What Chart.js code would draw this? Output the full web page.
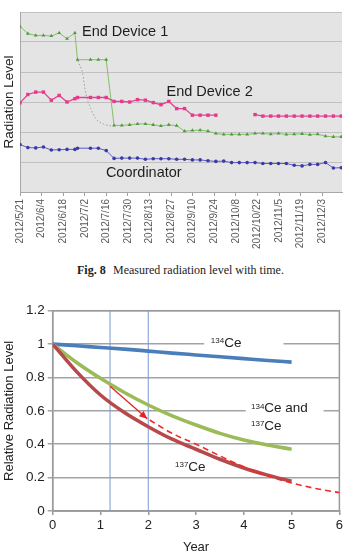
<!DOCTYPE html>
<html>
<head>
<meta charset="utf-8">
<script src="https://cdn.jsdelivr.net/npm/chart.js@4.4.1/dist/chart.umd.min.js"></script>
<style>
  body { margin: 0; width: 346px; height: 556px; background: #fff; position: relative; overflow: hidden; }
  #top { position: absolute; left: 0; top: 0; }
  #bot { position: absolute; left: 0; top: 290px; }
  .cap { position: absolute; top: 263px; font: 12px/14px "Liberation Serif", serif; color: #222; white-space: nowrap; }
</style>
</head>
<body>
<canvas id="top" width="346" height="252"></canvas>
<div class="cap" style="left:77px"><b>Fig. 8</b></div>
<div class="cap" style="left:113px">Measured radiation level with time.</div>
<canvas id="bot" width="346" height="266"></canvas>

<script>
// ---- Fig. 8 : measured radiation level (days since 2012/5/21) ----
const dateLabels = ["2012/5/21", "2012/6/4", "2012/6/18", "2012/7/2", "2012/7/16", "2012/7/30",
  "2012/8/13", "2012/8/27", "2012/9/10", "2012/9/24", "2012/10/8", "2012/10/22",
  "2012/11/5", "2012/11/19", "2012/12/3"];
const labelDays = [0, 14, 28, 42, 56, 70, 84, 98, 112, 126, 140, 154, 168, 182, 196];

const days = [0, 5.1, 10.2, 15.2, 20.3, 25.4, 30.5, 35.6, 37.3, 45.7, 50.8, 55.9,
  61, 66, 71.1, 76.2, 81.3, 86.4, 91.4, 96.5, 101.6, 106.7, 111.8, 116.8, 121.9, 127,
  132.1, 137.2, 142.2, 147.3, 152.4, 157.5, 162.6, 167.6, 172.7, 177.8, 182.9, 188,
  193, 198.1, 203.2, 208.3];
const endDevice1 = [5.52, 5.28, 5.22, 5.22, 5.20, 5.30, 5.11, 5.30, 4.41, 4.41, 4.41, 4.41,
  2.22, 2.22, 2.24, 2.27, 2.27, 2.24, 2.20, 2.24, 2.21, 2.03, 2.05, 2.06, 2.03, 1.95,
  1.92, 1.92, 1.92, 1.92, 1.95, 1.95, 1.93, 1.95, 1.92, 1.93, 1.94, 1.91, 1.93, 1.86,
  1.84, 1.84];
const endDevice2 = [2.97, 3.25, 3.33, 3.33, 3.06, 3.22, 3.00, 3.11, 3.15, 3.15, 3.15, 3.15,
  3.02, 3.02, 3.00, 3.08, 3.06, 2.98, 2.91, 3.02, 2.78, 2.78, 2.56, 2.56, 2.56, 2.56,
  null, null, null, null, 2.58, 2.53, 2.53, 2.53, 2.53, 2.53, 2.53, 2.53, 2.53, 2.53,
  2.53, 2.53];
const coordinator = [1.58, 1.48, 1.47, 1.50, 1.40, 1.41, 1.42, 1.42, 1.46, 1.46, 1.46, 1.38,
  1.12, 1.13, 1.13, 1.13, 1.09, 1.11, 1.11, 1.11, 1.09, 1.09, 1.07, 1.07, 1.04, 1.02,
  1.03, 0.98, 0.98, 0.98, 0.98, 0.95, 0.95, 0.95, 0.95, 0.89, 0.87, 0.92, 0.92, 0.98,
  0.80, 0.81];
// dotted guide curve after the first drop
const dropDays = [37.5, 40.6, 42.7, 45.9, 49.1, 53.4, 59.8];
const dropVals = [4.38, 3.95, 3.28, 2.78, 2.45, 2.28, 2.19];

// ---- lower chart : relative radiation level vs year ----
const years = [0, 0.5, 1, 1.5, 2, 2.5, 3, 3.5, 4, 4.5, 5];
const ce134 = [1, 0.99, 0.98, 0.97, 0.958, 0.946, 0.935, 0.924, 0.913, 0.902, 0.892];
const ceBoth = [1, 0.89, 0.795, 0.71, 0.635, 0.57, 0.515, 0.465, 0.425, 0.395, 0.37];
const ce137 = [1, 0.835, 0.695, 0.59, 0.505, 0.43, 0.37, 0.31, 0.258, 0.215, 0.178];
const fitYears = [2.03, 2.5, 3, 3.5, 4, 4.5, 5, 5.5, 6];
const fitVals = [0.545, 0.465, 0.40, 0.33, 0.265, 0.21, 0.168, 0.135, 0.11];
const arrowYears = [1.2, 1.98];
const arrowVals = [0.748, 0.552];
const markYears = [1.2, 2];

const pts = (xs, ys) => xs.map((x, i) => ({ x: x, y: ys[i] }));
const SANS = "'Liberation Sans', Arial, sans-serif";

const plotBg = {
  id: "plotBg",
  beforeDraw(chart, args, opts) {
    const { ctx, chartArea: a } = chart;
    ctx.save();
    ctx.fillStyle = opts.color;
    ctx.fillRect(a.left, a.top, a.right - a.left, a.bottom - a.top);
    ctx.restore();
  }
};

const topNotes = {
  id: "topNotes",
  afterDatasetsDraw(chart) {
    const { ctx, scales: { x, y } } = chart;
    ctx.save();
    ctx.font = "14.5px " + SANS;
    ctx.fillStyle = "#1e1e1e";
    ctx.textBaseline = "middle";
    ctx.fillText("End Device 1", x.getPixelForValue(40.2), y.getPixelForValue(5.34));
    ctx.fillText("End Device 2", x.getPixelForValue(95), y.getPixelForValue(3.33));
    ctx.fillText("Coordinator", x.getPixelForValue(55.7), y.getPixelForValue(0.63));
    ctx.restore();
  }
};

new Chart(document.getElementById("top"), {
  type: "line",
  data: {
    datasets: [
      {
        data: pts(days, endDevice2), borderColor: "#e8408f", borderWidth: 1.3,
        pointStyle: "rect", pointRadius: 2.4, pointBackgroundColor: "#e8378c",
        pointBorderWidth: 0
      },
      {
        data: pts(days, endDevice1), borderColor: "#86c066", borderWidth: 1,
        pointStyle: "triangle", pointRadius: 2.2, pointBackgroundColor: "#4e9a3c",
        pointBorderWidth: 0
      },
      {
        data: pts(days, coordinator), borderColor: "#5b5bd0", borderWidth: 1,
        pointStyle: "circle", pointRadius: 1.8, pointBackgroundColor: "#3a3aa6",
        pointBorderWidth: 0
      },
      {
        data: pts(dropDays, dropVals), borderColor: "#9aa39a", borderWidth: 1,
        borderDash: [1.5, 2], pointRadius: 0, cubicInterpolationMode: "monotone"
      }
    ]
  },
  options: {
    responsive: false,
    animation: false,
    events: [],
    layout: { padding: { top: 12, left: 0, right: 0, bottom: 0 } },
    plugins: {
      legend: { display: false },
      tooltip: { enabled: false },
      plotBg: { color: "#e4e4e4" }
    },
    scales: {
      x: {
        type: "linear", min: 0, max: 208.8,
        afterFit: s => { s.height = 60; },
        afterBuildTicks: s => { s.ticks = labelDays.map(v => ({ value: v })); },
        ticks: {
          autoSkip: false, minRotation: 90, maxRotation: 90, padding: 3,
          font: { family: SANS, size: 10 }, color: "#5a5a5a",
          callback: (v, i) => dateLabels[i]
        },
        grid: { drawOnChartArea: false, tickLength: 4, color: "#a0a0a0" },
        border: { color: "#a8a8a8" }
      },
      y: {
        min: 0, max: 6,
        afterFit: s => { s.width = 20; },
        ticks: { display: false, stepSize: 1 },
        grid: { color: "#c0c0c0", drawTicks: false },
        border: { color: "#a8a8a8" },
        title: {
          display: true, text: "Radiation Level", color: "#222",
          font: { family: SANS, size: 13.5 }, padding: { top: 1, bottom: 0 }
        }
      }
    }
  },
  plugins: [plotBg, topNotes]
});

// ---- lower chart ----
function isotope(ctx, mass, rest, x, y) {
  ctx.textBaseline = "alphabetic";
  ctx.font = "8px " + SANS;
  ctx.fillText(mass, x, y + 1.2);
  const w = ctx.measureText(mass).width;
  ctx.font = "13.5px " + SANS;
  ctx.fillText(rest, x + w, y + 4.8);
}

const lowNotes = {
  id: "lowNotes",
  beforeDatasetsDraw(chart) {
    const { ctx, chartArea: a, scales: { x, y } } = chart;
    ctx.save();
    ctx.strokeStyle = "#9a9a9a";
    ctx.lineWidth = 1.5;
    ctx.strokeRect(a.left, a.top, a.right - a.left, a.bottom - a.top);
    ctx.fillStyle = "#fff";
    const box = (x0, x1, y0, y1) => {
      const l = x.getPixelForValue(x0), r = x.getPixelForValue(x1);
      const t = y.getPixelForValue(y1), b = y.getPixelForValue(y0);
      ctx.fillRect(l, t, r - l, b - t);
    };
    box(3.17, 4.83, 0.955, 1.06);
    box(4.04, 5.67, 0.47, 0.675);
    ctx.restore();
  },
  afterDatasetsDraw(chart) {
    const { ctx, scales: { x, y } } = chart;
    ctx.save();
    ctx.fillStyle = "#222";
    isotope(ctx, "134", "Ce", x.getPixelForValue(3.31), y.getPixelForValue(1.014));
    isotope(ctx, "134", "Ce and", x.getPixelForValue(4.15), y.getPixelForValue(0.621));
    isotope(ctx, "137", "Ce", x.getPixelForValue(4.15), y.getPixelForValue(0.515));
    isotope(ctx, "137", "Ce", x.getPixelForValue(2.56), y.getPixelForValue(0.27));

    // arrow head at the end of the arrow dataset
    const meta = chart.getDatasetMeta(0);
    const p0 = meta.data[0], p1 = meta.data[1];
    const ang = Math.atan2(p1.y - p0.y, p1.x - p0.x);
    ctx.fillStyle = "#e52222";
    ctx.translate(p1.x, p1.y);
    ctx.rotate(ang);
    ctx.beginPath();
    ctx.moveTo(0, 0);
    ctx.lineTo(-8, -3.5);
    ctx.lineTo(-8, 3.5);
    ctx.closePath();
    ctx.fill();
    ctx.restore();
  }
};

const curve = { pointRadius: 0, tension: 0.4, cubicInterpolationMode: "monotone" };

new Chart(document.getElementById("bot"), {
  type: "line",
  data: {
    datasets: [
      { data: pts(arrowYears, arrowVals), borderColor: "#e52222", borderWidth: 1.3, pointRadius: 0 },
      Object.assign({ data: pts(fitYears, fitVals), borderColor: "#f02a2a", borderWidth: 1.6, borderDash: [6, 4] }, curve),
      Object.assign({ data: pts(years, ce137), borderColor: "#b8494a", borderWidth: 3.6 }, curve),
      Object.assign({ data: pts(years, ceBoth), borderColor: "#9bbb59", borderWidth: 3.6 }, curve),
      Object.assign({ data: pts(years, ce134), borderColor: "#4a7ebb", borderWidth: 3.6 }, curve),
      { data: pts([markYears[0], markYears[0]], [0, 1.2]), borderColor: "#7b9bd1", borderWidth: 1, pointRadius: 0 },
      { data: pts([markYears[1], markYears[1]], [0, 1.2]), borderColor: "#7b9bd1", borderWidth: 1, pointRadius: 0 }
    ]
  },
  options: {
    responsive: false,
    animation: false,
    events: [],
    layout: { padding: { top: 20.7, right: 5.5, left: 0, bottom: 0 } },
    plugins: { legend: { display: false }, tooltip: { enabled: false } },
    scales: {
      x: {
        type: "linear", min: 0, max: 6,
        afterFit: s => { s.height = 45; },
        ticks: { stepSize: 1, padding: 3, color: "#222", font: { family: SANS, size: 13 } },
        grid: { drawOnChartArea: false, tickLength: 4, color: "#9a9a9a", lineWidth: 1.5 },
        border: { color: "#9a9a9a", width: 1.5 },
        title: {
          display: true, text: "Year", color: "#222",
          font: { family: SANS, size: 13 }, padding: { top: 0, bottom: 1.2 }
        }
      },
      y: {
        min: 0, max: 1.2,
        afterFit: s => { s.width = 52.7; },
        ticks: {
          stepSize: 0.2, padding: 3, color: "#222", font: { family: SANS, size: 13.5 },
          callback: v => String(Number(v.toFixed(1)))
        },
        grid: { color: "#a3a3a3", lineWidth: 1.5, tickLength: 5 },
        border: { color: "#9a9a9a", width: 1.5 },
        title: {
          display: true, text: "Relative Radiation Level", color: "#222",
          font: { family: SANS, size: 13 }, padding: { top: 2, bottom: 0 }
        }
      }
    }
  },
  plugins: [lowNotes]
});
</script>
</body>
</html>
